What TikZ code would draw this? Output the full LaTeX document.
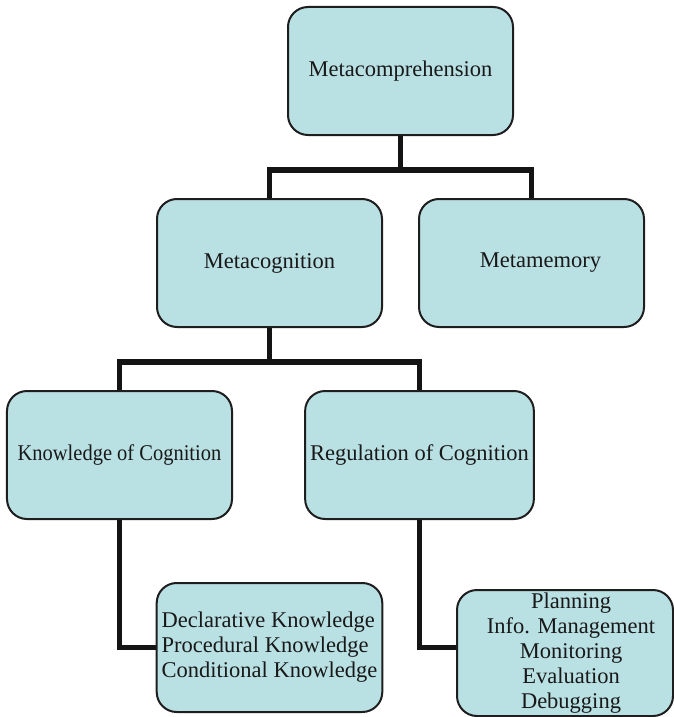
\documentclass[tikz,border=0pt]{standalone}
\usepackage{fontspec}
\setmainfont{Liberation Serif}
\usetikzlibrary{calc}
\definecolor{boxfill}{RGB}{185,224,227}
\definecolor{boxline}{RGB}{30,30,30}
\definecolor{connline}{RGB}{20,20,20}
\begin{document}
\begin{tikzpicture}[x=1bp,y=-1bp,
  box/.style={draw=boxline, line width=2bp, fill=boxfill, rounded corners=20bp,
    minimum width=225bp, minimum height=128bp, inner sep=5bp,
    font=\fontsize{22.5bp}{25bp}\selectfont, text=black!90},
  conn/.style={draw=connline, line width=5.5bp, line join=miter}]
\useasboundingbox (0,0) rectangle (674,717);
% connectors first (drawn under boxes via coordinates)
\coordinate (j1) at (400.5,170);
\coordinate (j2) at (269.5,362);
\coordinate (mcS) at (400.5,135);
\coordinate (mcogN) at (269.5,199);
\coordinate (mmemN) at (531.5,199);
\coordinate (mcogS) at (269.5,327);
\coordinate (kcN) at (119.5,391);
\coordinate (rcN) at (419.5,391);
\coordinate (kcS) at (119.5,519);
\coordinate (rcS) at (419.5,519);
\coordinate (dkW) at (157,647.5);
\coordinate (plW) at (457,647.5);
\draw[conn] (mcS) -- (j1);
\draw[conn] (mcogN) |- (j1) -| (mmemN);
\draw[conn] (mcogS) -- (j2);
\draw[conn] (kcN) |- (j2) -| (rcN);
\draw[conn] (kcS) |- (dkW);
\draw[conn] (rcS) |- (plW);
% boxes
\node[box] (mc) at (400.5,71) {Metacomprehension};
\node[box] (mcog) at (269.5,263) {Metacognition};
\node[box] (mmem) at (531.5,263) {\hspace*{18bp}Metamemory};
\node[box] (kc) at (119.5,455) {\scalebox{0.91}[1]{Knowledge of Cognition}};
\node[box] (rc) at (419.5,455) {Regulation of Cognition};
\node[box, align=left, minimum height=129bp] (dk) at (269.5,647.5)
  {Declarative Knowledge\\Procedural Knowledge\\Conditional Knowledge};
\node[box, align=center, minimum width=216bp, minimum height=126bp, inner sep=1bp] (pl) at (565,653)
  {\hspace*{12bp}Planning\\\hspace*{12bp}Info. Management\\\hspace*{12bp}Monitoring\\\hspace*{12bp}Evaluation\\\hspace*{12bp}Debugging};
\end{tikzpicture}
\end{document}
